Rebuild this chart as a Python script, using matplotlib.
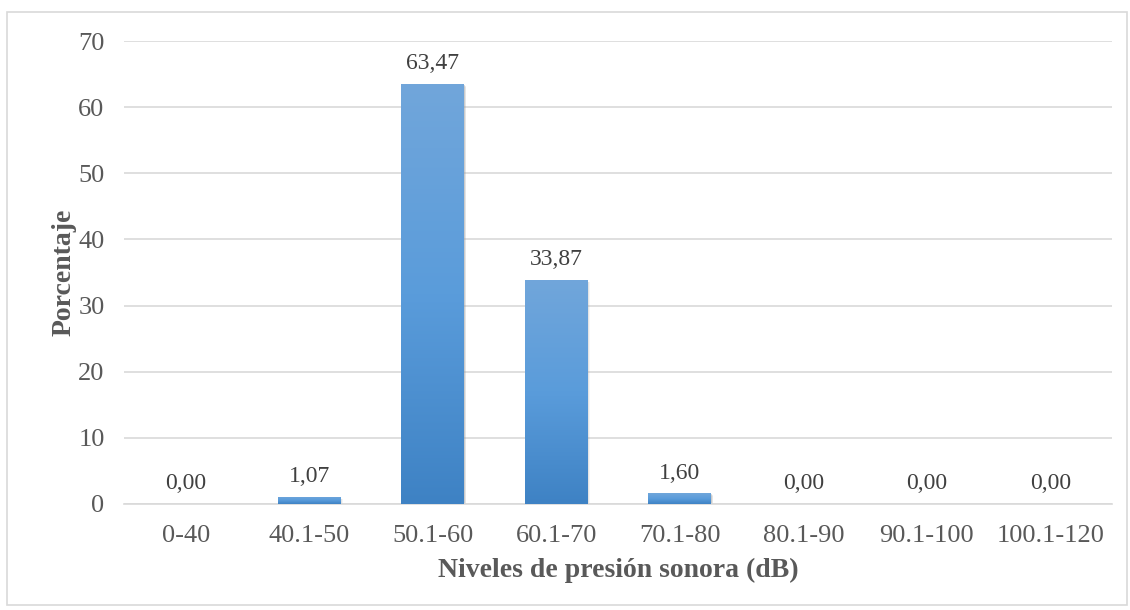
import matplotlib
matplotlib.use("Agg")
import matplotlib.pyplot as plt
import numpy as np
from matplotlib.patches import Rectangle
from matplotlib.colors import LinearSegmentedColormap

categories = ["0-40", "40.1-50", "50.1-60", "60.1-70", "70.1-80", "80.1-90", "90.1-100", "100.1-120"]
values = [0.00, 1.07, 63.47, 33.87, 1.60, 0.00, 0.00, 0.00]
labels = ["0,00", "1,07", "63,47", "33,87", "1,60", "0,00", "0,00", "0,00"]
yticks = [0, 10, 20, 30, 40, 50, 60, 70]

plt.rcParams['font.family'] = ['Liberation Serif', 'DejaVu Serif']
txt = '#595959'

fig = plt.figure(figsize=(11.3, 6.1), dpi=100)
ax = fig.add_axes([124/1130, 1-504/610, (1112-124)/1130, (504-41)/610])

# figure border
fig.patches.append(Rectangle((7/1130, 5/610), 1120/1130, 593/610, transform=fig.transFigure,
                             fill=False, edgecolor='#d9d9d9', linewidth=1.2))

width = 0.51
x = np.arange(len(categories))
bars = ax.bar(x, values, width=width, color='#5B9BD5', zorder=3)

grad = np.linspace(0, 1, 256).reshape(-1, 1)
cmap = LinearSegmentedColormap.from_list('g', ['#3E82C4', '#5A9CDB', '#71A6DA'])
for b, v in zip(bars, values):
    if v <= 0:
        continue
    x0 = b.get_x(); w = b.get_width()
    for k, a in enumerate([0.35, 0.2, 0.1]):
        d = 0.006 * (k + 1)
        sh = Rectangle((x0 + d, -0.12 * (k + 1)), w, v, facecolor='#a0a0a0', edgecolor='none',
                       alpha=a, zorder=2)
        ax.add_patch(sh)
    im = ax.imshow(grad, extent=[x0, x0 + w, 0, v], origin='lower', cmap=cmap, aspect='auto', zorder=3.5)
    im.set_clip_path(b)

for xi, v, lab in zip(x, values, labels):
    ax.annotate(lab, (xi, v), xytext=(0, 7), textcoords='offset points', ha='center', va='bottom',
                fontsize=17, color='#404040')

ax.set_xlim(-0.5, len(categories) - 0.5)
ax.set_ylim(0, 70)
ax.set_yticks(yticks)
ax.set_xticks(x)
ax.set_xticklabels(categories)
ax.tick_params(axis='both', length=0, labelsize=19, colors=txt)
ax.tick_params(axis='y', pad=14)
ax.tick_params(axis='x', pad=15)
ax.yaxis.grid(True, color='#d9d9d9', linewidth=1.2, zorder=0)
ax.set_axisbelow(True)
for s in ['top', 'right', 'left']:
    ax.spines[s].set_visible(False)
ax.spines['bottom'].set_color('#d9d9d9')
ax.spines['bottom'].set_linewidth(1.2)

ax.set_ylabel('Porcentaje', fontsize=20, fontweight='bold', color=txt, labelpad=1)
ax.set_xlabel('Niveles de presión sonora (dB)', fontsize=20, fontweight='bold', color=txt, labelpad=8)

fig.savefig('out.png', dpi=100)
